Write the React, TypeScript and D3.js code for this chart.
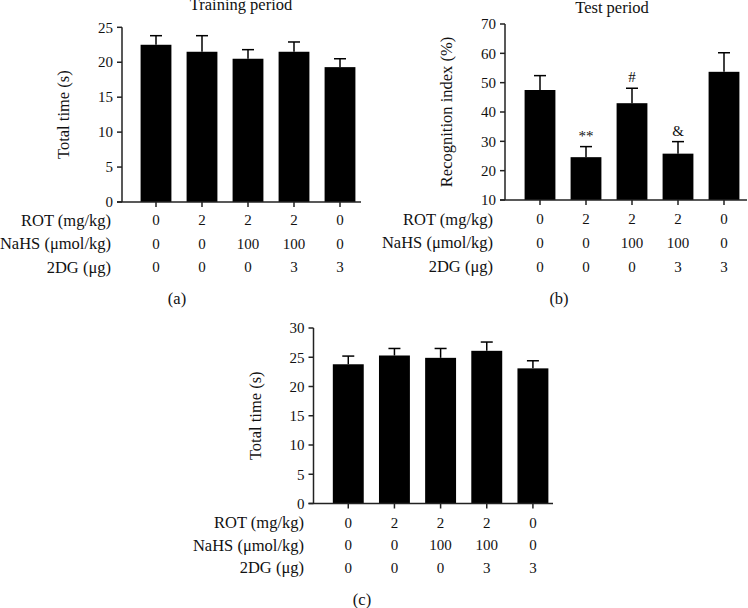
import React from 'react';
import * as d3 from 'd3';

// treatment groups
const groups = ['g1', 'g2', 'g3', 'g4', 'g5'];
const rotDose = ['0', '2', '2', '2', '0'];
const nahsDose = ['0', '0', '100', '100', '0'];
const dgDose = ['0', '0', '0', '3', '3'];
const rowLabels = ['ROT (mg/kg)', 'NaHS (\u03bcmol/kg)', '2DG (\u03bcg)'];

// (a) training period
const trainMean = [22.5, 21.5, 20.5, 21.5, 19.3];
const trainSem = [1.3, 2.3, 1.3, 1.4, 1.2];
const trainTicks = [0, 5, 10, 15, 20, 25];

// (b) test period
const testMean = [47.5, 24.6, 43.0, 25.8, 53.7];
const testSem = [4.9, 3.6, 5.1, 4.1, 6.5];
const testMarks = ['', '**', '#', '&', ''];
const testTicks = [10, 20, 30, 40, 50, 60, 70];

// (c) total time
const totalMean = [23.8, 25.3, 24.9, 26.1, 23.1];
const totalSem = [1.4, 1.2, 1.6, 1.5, 1.3];
const totalTicks = [0, 5, 10, 15, 20, 25, 30];

const FONT = '"Liberation Serif", "DejaVu Serif", serif';
const FS = 15; // digits
const LS = 16.5; // words

type PanelProps = {
  mean: number[];
  sem: number[];
  ticks: number[];
  marks?: string[];
  yDomain: [number, number];
  yPix: [number, number];
  axisX: [number, number];
  bandX: [number, number];
  yLabel: string;
  yLabelX: number;
  title?: string;
  titleX?: number;
  titleY?: number;
  rowY: number[];
  rowLabelX: number;
  caption: string;
  captionX: number;
  captionY: number;
};

const Panel = (p: PanelProps) => {
  const x = d3.scaleBand().domain(groups).range(p.bandX).paddingInner(0.33).paddingOuter(0.165);
  const y = d3.scaleLinear().domain(p.yDomain).range(p.yPix);
  const [x0, x1] = p.axisX;
  const yBase = y(p.yDomain[0]);
  const bw = x.bandwidth();
  const rows = [rotDose, nahsDose, dgDose];
  const midY = (p.yPix[0] + p.yPix[1]) / 2;
  const cx = (g: string) => x(g)! + bw / 2;
  return (
    <g fontFamily={FONT} fontSize={FS} fill="#111">
      {p.title && (
        <text x={p.titleX} y={p.titleY} textAnchor="middle" fontSize={LS}>{p.title}</text>
      )}
      {/* bars + error bars */}
      {groups.map((g, i) => (
        <g key={g}>
          <rect x={x(g)} y={y(p.mean[i])} width={bw} height={yBase - y(p.mean[i])} fill="#000" />
          <line x1={cx(g)} x2={cx(g)} y1={y(p.mean[i])} y2={y(p.mean[i] + p.sem[i])} stroke="#000" strokeWidth={1.5} />
          <line x1={cx(g) - 6} x2={cx(g) + 6} y1={y(p.mean[i] + p.sem[i])} y2={y(p.mean[i] + p.sem[i])} stroke="#000" strokeWidth={1.5} />
          {p.marks && p.marks[i] && (
            <text x={cx(g)} y={y(p.mean[i] + p.sem[i]) - 6} textAnchor="middle">{p.marks[i]}</text>
          )}
        </g>
      ))}
      {/* y axis */}
      <line x1={x0} x2={x0} y1={p.yPix[1]} y2={yBase} stroke="#222" strokeWidth={1.5} />
      {p.ticks.map(t => (
        <g key={t}>
          <line x1={x0 - 5} x2={x0} y1={y(t)} y2={y(t)} stroke="#222" strokeWidth={1.5} />
          <text x={x0 - 9} y={y(t)} dy="0.35em" textAnchor="end">{t}</text>
        </g>
      ))}
      {/* x axis */}
      <line x1={x0 - 5} x2={x1} y1={yBase} y2={yBase} stroke="#222" strokeWidth={1.5} />
      {groups.map(g => (
        <line key={g} x1={cx(g)} x2={cx(g)} y1={yBase} y2={yBase + 5} stroke="#222" strokeWidth={1.5} />
      ))}
      <text transform={`translate(${p.yLabelX},${midY}) rotate(-90)`} textAnchor="middle" dy="0.35em" fontSize={LS}>{p.yLabel}</text>
      {/* treatment table */}
      {rows.map((r, ri) => (
        <g key={ri}>
          <text x={p.rowLabelX} y={p.rowY[ri]} dy="0.35em" textAnchor="end" fontSize={LS}>{rowLabels[ri]}</text>
          {groups.map((g, i) => (
            <text key={g} x={cx(g)} y={p.rowY[ri]} dy="0.35em" textAnchor="middle">{r[i]}</text>
          ))}
        </g>
      ))}
      <text x={p.captionX} y={p.captionY} dy="0.35em" textAnchor="middle" fontSize={LS}>{p.caption}</text>
    </g>
  );
};

export default function App() {
  return (
    <svg width={748} height={608} style={{ position: 'absolute', left: 0, top: 0, background: '#fff' }}>
      <Panel
        mean={trainMean} sem={trainSem} ticks={trainTicks}
        yDomain={[0, 25]} yPix={[202, 27.3]}
        axisX={[122, 361]} bandX={[133, 363]}
        yLabel="Total time (s)" yLabelX={63}
        title="Training period" titleX={241} titleY={10}
        rowY={[220, 243.5, 267]} rowLabelX={111}
        caption="(a)" captionX={177} captionY={298}
      />
      <Panel
        mean={testMean} sem={testSem} ticks={testTicks} marks={testMarks}
        yDomain={[10, 70]} yPix={[200, 24]}
        axisX={[505, 747]} bandX={[517, 747]}
        yLabel="Recognition index (%)" yLabelX={446}
        title="Test period" titleX={612} titleY={13}
        rowY={[219, 242.7, 266.7]} rowLabelX={493}
        caption="(b)" captionX={559} captionY={298}
      />
      <Panel
        mean={totalMean} sem={totalSem} ticks={totalTicks}
        yDomain={[0, 30]} yPix={[503.5, 328]}
        axisX={[313.5, 553]} bandX={[325.2, 556]}
        yLabel="Total time (s)" yLabelX={255}
        rowY={[522.3, 545, 567.7]} rowLabelX={304}
        caption="(c)" captionX={362} captionY={599}
      />
    </svg>
  );
}
